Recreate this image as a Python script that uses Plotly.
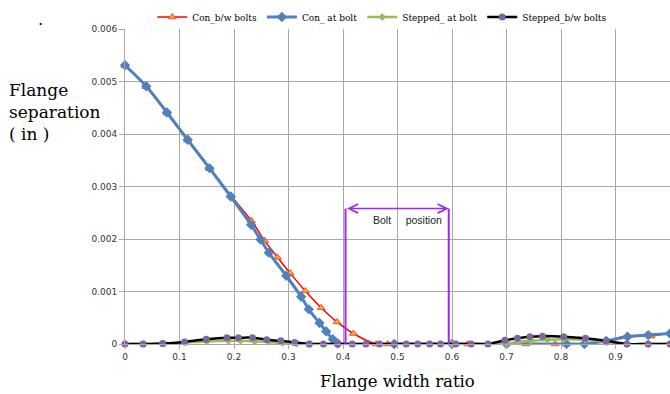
import plotly.graph_objects as go

# ---- data ----
con_bw_x = [0, 0.039, 0.077, 0.115, 0.155, 0.194, 0.232, 0.256, 0.280, 0.303, 0.331, 0.360,
            0.389, 0.419, 0.461, 0.482, 0.629, 0.736, 0.789, 0.810, 0.883, 0.922, 0.965, 1.0]
con_bw_y = [0.00530, 0.00490, 0.00440, 0.00388, 0.00334, 0.00283, 0.00235, 0.00197, 0.00165,
            0.00135, 0.00101, 0.00069, 0.00042, 0.00020, 0, 0, 0, 0, 0, 0, 0.00005, 0.00016,
            0.00015, 0.00022]

con_at_x = [0, 0.039, 0.077, 0.115, 0.155, 0.194, 0.2315, 0.2486, 0.2638, 0.2958, 0.3233,
            0.3372, 0.3569, 0.3692, 0.3813, 0.3905, 0.494, 0.600, 0.700, 0.810, 0.843, 0.883,
            0.922, 0.960, 1.0]
con_at_y = [0.00531, 0.00491, 0.00441, 0.00389, 0.00335, 0.00281, 0.00227, 0.00199, 0.00174,
            0.00130, 0.00090, 0.00066, 0.00040, 0.00024, 0.00009, 0.00001, 0, 0, 0, 0, 0,
            0.00006, 0.00014, 0.00017, 0.00020]

step_at_x = [0, 0.035, 0.072, 0.112, 0.150, 0.190, 0.212, 0.238, 0.263, 0.289, 0.315, 0.340,
             0.390, 0.600, 0.700, 0.722, 0.745, 0.775, 0.805, 0.845, 0.885, 0.920, 0.960, 1.0]
step_at_y = [0, 0, 0.00001, 0.00003, 0.00005, 0.00006, 0.00006, 0.00005, 0.00004, 0.00002,
             0.00001, 0, 0, 0, 0.00001, 0.00004, 0.00006, 0.00008, 0.00009, 0.00008, 0.00004,
             0, 0, 0]

step_bw_x = [0, 0.033, 0.069, 0.109, 0.149, 0.187, 0.208, 0.234, 0.260, 0.286, 0.311, 0.338,
             0.364, 0.390, 0.417, 0.442, 0.467, 0.494, 0.516, 0.537, 0.559, 0.579, 0.607, 0.635,
             0.666, 0.697, 0.720, 0.743, 0.766, 0.805, 0.845, 0.883, 0.921, 0.960, 1.0]
step_bw_y = [0, 0, 0.00001, 0.00004, 0.00009, 0.00012, 0.00012, 0.00012, 0.00008, 0.00006,
             0.00003, 0, 0, 0, 0, 0, 0, 0, 0, 0, 0, 0, 0, 0,
             0, 0.00007, 0.00011, 0.00014, 0.00015, 0.00014, 0.00011, 0.00006, 0, 0, 0]

x_tickvals = [0, 0.1, 0.2, 0.3, 0.4, 0.5, 0.6, 0.7, 0.8, 0.9, 1.0]
x_ticktext = ["0", "0.1", "0.2", "0.3", "0.4", "0.5", "0.6", "0.7", "0.8", "0.9", "1"]
y_tickvals = [0, 0.001, 0.002, 0.003, 0.004, 0.005, 0.006]
y_ticktext = ["0", "0.001", "0.002", "0.003", "0.004", "0.005", "0.006"]

bolt_start = 0.4046
bolt_end = 0.594
bolt_level = 0.00258

# ---- figure ----
SERIF = "DejaVu Serif"
SANS = "DejaVu Sans"
PURPLE = "#A326F0"

fig = go.Figure()
fig.add_trace(go.Scatter(
    x=con_bw_x, y=con_bw_y, name="Con_b/w bolts", mode="lines+markers",
    line=dict(color="#FF0000", width=1.5, shape="spline", smoothing=0.8),
    marker=dict(symbol="triangle-up", size=7, color="#FFA31A", line=dict(color="#E0403A", width=0.8)),
    cliponaxis=False))
fig.add_trace(go.Scatter(
    x=con_at_x, y=con_at_y, name="Con_ at bolt", mode="lines+markers",
    line=dict(color="#4F81BD", width=3, shape="spline", smoothing=0.8),
    marker=dict(symbol="diamond", size=8, color="#4F81BD"),
    cliponaxis=False))
fig.add_trace(go.Scatter(
    x=step_at_x, y=step_at_y, name="Stepped_ at bolt", mode="lines+markers",
    line=dict(color="#9BBB59", width=2.5, shape="spline", smoothing=0.8),
    marker=dict(symbol="diamond", size=6, color="#9BBB59"),
    cliponaxis=False))
fig.add_trace(go.Scatter(
    x=step_bw_x, y=step_bw_y, name="Stepped_b/w bolts", mode="lines+markers",
    line=dict(color="#000000", width=2.5, shape="spline", smoothing=0.8),
    marker=dict(symbol="circle", size=7, color="#8064A2"),
    cliponaxis=False))

# bolt position bracket
for bx in (bolt_start, bolt_end):
    fig.add_shape(type="line", xref="x", yref="y", x0=bx, x1=bx, y0=0, y1=bolt_level,
                  line=dict(color=PURPLE, width=2))
fig.add_annotation(x=bolt_end, y=bolt_level, ax=bolt_start, ay=bolt_level,
                   xref="x", yref="y", axref="x", ayref="y", text="",
                   showarrow=True, arrowside="end+start", arrowhead=5,
                   arrowsize=1.2, arrowwidth=1.5, arrowcolor=PURPLE)
fig.add_annotation(x=0.519, y=0.00236, xref="x", yref="y",
                   text="Bolt\u00a0\u00a0\u00a0\u00a0 position", showarrow=False,
                   font=dict(family="Liberation Sans", size=10.5, color="#222222"))

# axis titles
fig.add_annotation(x=-0.2165, y=0.7365, xref="paper", yref="paper",
                   xanchor="left", yanchor="middle", align="left",
                   text="Flange<br>separation<br>( in )", showarrow=False,
                   font=dict(family=SERIF, size=17, color="#000000"))
fig.add_annotation(x=0.5, y=-0.1175, xref="paper", yref="paper",
                   xanchor="center", yanchor="middle",
                   text="Flange width ratio", showarrow=False,
                   font=dict(family=SERIF, size=16.5, color="#000000"))
fig.add_annotation(x=-0.164, y=1.067, xref="paper", yref="paper",
                   text=".", showarrow=False,
                   font=dict(family=SERIF, size=16, color="#000000"))

fig.update_layout(
    width=670, height=394,
    margin=dict(l=125, r=0, t=29, b=50),
    paper_bgcolor="white", plot_bgcolor="white",
    showlegend=True,
    legend=dict(orientation="h", x=0.05, y=1.038, xanchor="left", yanchor="middle",
                font=dict(family=SERIF, size=9, color="#000000"),
                bgcolor="rgba(0,0,0,0)", itemwidth=30, tracegroupgap=0),
    xaxis=dict(range=[0, 1], tickvals=x_tickvals, ticktext=x_ticktext,
               showgrid=True, gridcolor="#A8A8A8", gridwidth=1,
               showline=True, linecolor="#A8A8A8", linewidth=1,
               ticks="outside", ticklen=4, tickcolor="#A8A8A8",
               zeroline=False,
               tickfont=dict(family=SANS, size=9, color="#333333")),
    yaxis=dict(range=[0, 0.006], tickvals=y_tickvals, ticktext=y_ticktext,
               showgrid=True, gridcolor="#A8A8A8", gridwidth=1,
               showline=True, linecolor="#A8A8A8", linewidth=1,
               ticks="outside", ticklen=5, tickcolor="#A8A8A8",
               zeroline=False,
               tickfont=dict(family=SANS, size=9, color="#333333")),
)

fig.write_html("out.html",
               config={"displayModeBar": False},
               post_script="document.body.style.margin='0px';document.body.style.overflow='hidden';")
